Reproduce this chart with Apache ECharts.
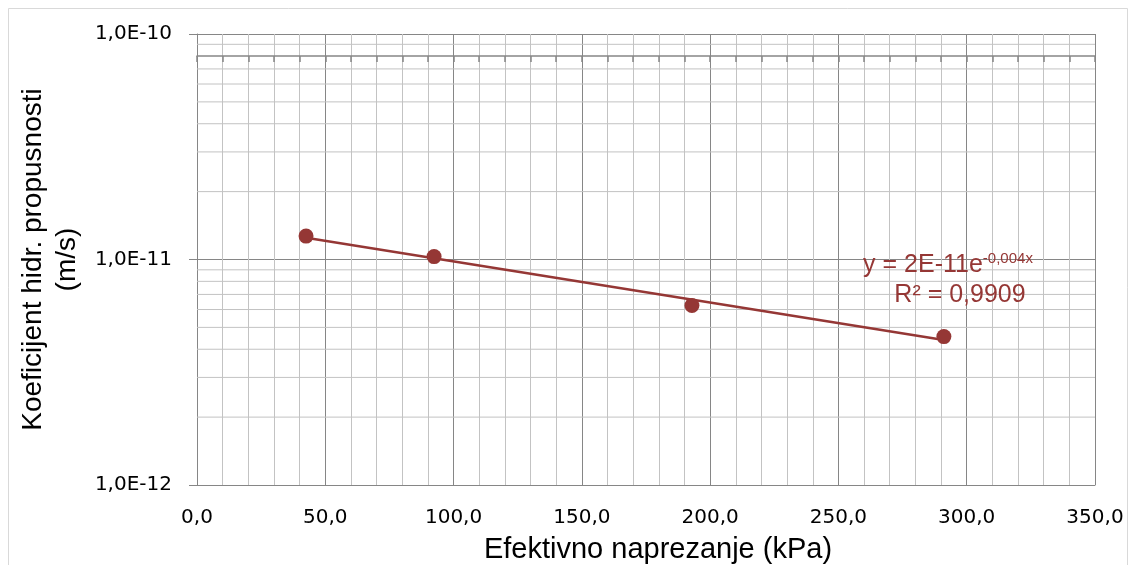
<!DOCTYPE html>
<html>
<head>
<meta charset="utf-8">
<script src="https://cdn.jsdelivr.net/npm/echarts@6/dist/echarts.min.js"></script>
<style>
  html, body { margin: 0; padding: 0; background: #fff; }
  #chart { width: 1136px; height: 565px; }
</style>
</head>
<body>
<div id="chart"></div>
<script>
// measured points (x in kPa, k in m/s)
const stress = [42.5, 92.4, 192.9, 291.1]
const permeability = [1.27e-11, 1.03e-11, 6.25e-12, 4.55e-12]

// exponential trendline, end points
const trendX = [42.5, 291.1]
const trendY = [1.25e-11, 4.4e-12]

const xTickLabels = ['0,0', '50,0', '100,0', '150,0', '200,0', '250,0', '300,0', '350,0']
const yTickLabels = { '-12': '1,0E-12', '-11': '1,0E-11', '-10': '1,0E-10' }
const yMinorLines = [2e-12, 3e-12, 4e-12, 5e-12, 6e-12, 7e-12, 8e-12, 9e-12,
  2e-11, 3e-11, 4e-11, 5e-11, 6e-11, 7e-11, 9e-11]

const red = '#953735'
const major = '#868686'
const minor = '#c3c3c3'
const titleFont = 'Liberation Sans, Arial, sans-serif'
const tickFont = 'DejaVu Sans, sans-serif'

const chart = echarts.init(document.getElementById('chart'))

// light horizontal gridlines at 2..9 of every decade
const minorSeries = yMinorLines.map(v => ({
  type: 'line',
  data: [[0, v], [350, v]],
  showSymbol: false,
  silent: true,
  lineStyle: { color: minor, width: 1 },
  z: 1
}))

const option = {
  backgroundColor: '#fff',
  animation: false,
  grid: { left: 197, right: 41, top: 34, bottom: 80, outerBoundsMode: 'none', containLabel: false },
  xAxis: [
    {
      type: 'value',
      min: 0,
      max: 350,
      interval: 50,
      name: 'Efektivno naprezanje (kPa)',
      nameLocation: 'middle',
      nameGap: 50,
      nameTextStyle: { fontFamily: titleFont, fontSize: 29, color: '#000', padding: [0, 0, 0, 24] },
      axisLine: { lineStyle: { color: major, width: 1 } },
      axisTick: { show: false },
      axisLabel: {
        fontFamily: tickFont, fontSize: 20, color: '#000', margin: 23,
        formatter: (v) => xTickLabels[Math.round(v / 50)]
      },
      splitLine: { lineStyle: { color: major, width: 1 } },
      minorTick: { show: false, splitNumber: 5 },
      minorSplitLine: { show: true, lineStyle: { color: minor, width: 1 } }
    },
    {
      // the dark crossing axis at 8E-11
      type: 'value',
      position: 'top',
      offset: -22,
      min: 0,
      max: 350,
      interval: 10,
      axisLine: { show: true, lineStyle: { color: major, width: 1.5 } },
      axisTick: { show: true, inside: true, length: 6, lineStyle: { color: major, width: 1.5 } },
      axisLabel: { show: false },
      splitLine: { show: false }
    }
  ],
  yAxis: {
    type: 'log',
    logBase: 10,
    min: 1e-12,
    max: 1e-10,
    name: 'Koeficijent hidr. propusnosti\n(m/s)',
    nameLocation: 'middle',
    nameGap: 106,
    nameTextStyle: { fontFamily: titleFont, fontSize: 28, color: '#000', lineHeight: 34 },
    axisLine: { show: true, lineStyle: { color: major, width: 1 } },
    axisTick: { show: true, length: 8, lineStyle: { color: major } },
    axisLabel: {
      fontFamily: tickFont, fontSize: 20, color: '#000', margin: 25,
      formatter: (v) => yTickLabels[String(Math.round(Math.log10(v)))] || ''
    },
    splitLine: { lineStyle: { color: major, width: 1 } }
  },
  series: [
    ...minorSeries,
    {
      name: 'trend',
      type: 'line',
      data: trendX.map((x, i) => [x, trendY[i]]),
      showSymbol: false,
      lineStyle: { color: red, width: 2.5 },
      z: 3
    },
    {
      name: 'k',
      type: 'scatter',
      data: stress.map((x, i) => [x, permeability[i]]),
      symbolSize: 15,
      itemStyle: { color: red, opacity: 1 },
      z: 4
    }
  ],
  graphic: [
    {
      type: 'rect',
      shape: { x: 8.5, y: 8.5, width: 1119, height: 600 },
      style: { fill: 'none', stroke: '#d9d9d9', lineWidth: 1 },
      silent: true,
      z: -1
    },
    {
      type: 'text',
      x: 948,
      y: 265,
      style: {
        text: '{b|y = 2E-11e}{s|-0,004x}',
        align: 'center',
        verticalAlign: 'middle',
        rich: {
          b: { fontFamily: titleFont, fontSize: 25, fill: red },
          s: { fontFamily: titleFont, fontSize: 15, fill: red, verticalAlign: 'top', padding: [0, 0, 12, 0] }
        }
      },
      z: 10
    },
    {
      type: 'text',
      x: 960,
      y: 295,
      style: {
        text: 'R² = 0,9909',
        align: 'center',
        verticalAlign: 'middle',
        fontFamily: titleFont,
        fontSize: 25,
        fill: red
      },
      z: 10
    }
  ]
}

chart.setOption(option)

window.addEventListener('resize', () => {
  chart.resize()
})
</script>
</body>
</html>
